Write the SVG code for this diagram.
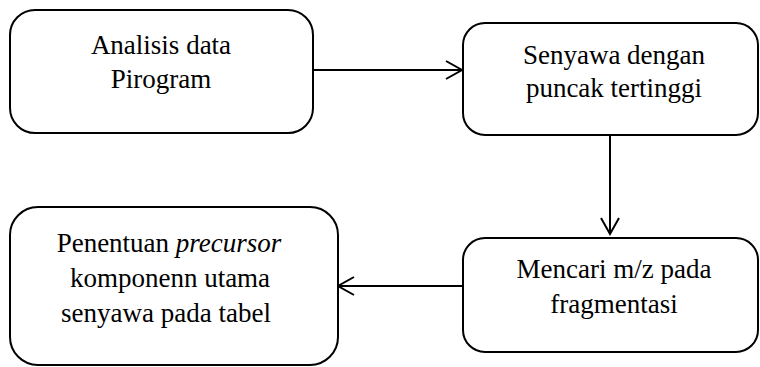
<svg xmlns="http://www.w3.org/2000/svg" width="760" height="367" viewBox="0 0 760 367">
<style>
.box{fill:#fff;stroke:#000;stroke-width:2}
.t{font-size:27px;fill:#000;text-anchor:middle}
.c{stroke:#000;stroke-width:2;fill:none}
</style>
<defs>
<marker id="arr" markerUnits="userSpaceOnUse" markerWidth="20" markerHeight="22" refX="17" refY="10" orient="auto">
<path d="M1,1 L17,10 L1,19" fill="none" stroke="#000" stroke-width="2"/>
</marker>
</defs>
<rect width="760" height="367" fill="#fff"/>
<g id="connectors">
<line class="c" x1="313" y1="70" x2="462" y2="70" marker-end="url(#arr)"/>
<line class="c" x1="610" y1="135" x2="610" y2="234" marker-end="url(#arr)"/>
<line class="c" x1="463" y1="286" x2="338" y2="286" marker-end="url(#arr)"/>
</g>
<g font-family="'Liberation Serif', 'Times New Roman', 'DejaVu Serif', serif">
<g id="n1">
<rect class="box" x="10" y="10" width="303" height="123" rx="25"/>
<text class="t" x="161" y="54">Analisis data</text>
<text class="t" x="161" y="88">Pirogram</text>
</g>
<g id="n2">
<rect class="box" x="463" y="23" width="295" height="112" rx="22"/>
<text class="t" x="614" y="64">Senyawa dengan</text>
<text class="t" x="614" y="97">puncak tertinggi</text>
</g>
<g id="n3">
<rect class="box" x="463" y="238" width="295" height="114" rx="22"/>
<text class="t" x="614" y="278">Mencari m/z pada</text>
<text class="t" x="614" y="313">fragmentasi</text>
</g>
<g id="n4">
<rect class="box" x="10" y="207" width="328" height="158" rx="28"/>
<text class="t" x="169" y="252">Penentuan <tspan font-style="italic">precursor</tspan></text>
<text class="t" x="170" y="287">komponenn utama</text>
<text class="t" x="166" y="322">senyawa pada tabel</text>
</g>
</g>
</svg>
